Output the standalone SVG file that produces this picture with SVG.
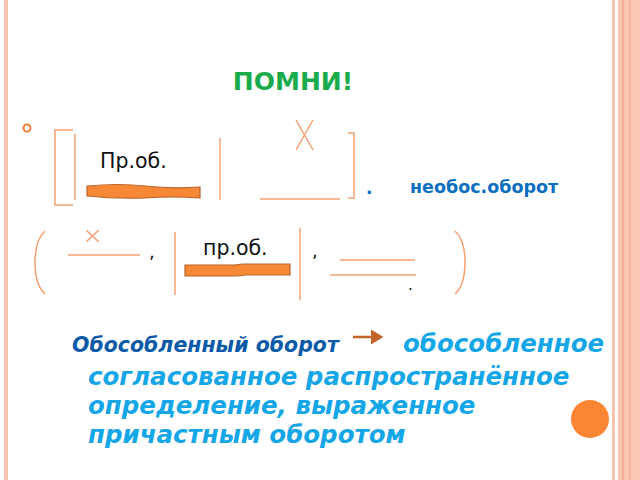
<svg xmlns="http://www.w3.org/2000/svg" width="640" height="480" viewBox="0 0 640 480">
<style>
.ln{stroke:#f4a070;stroke-width:1.5;fill:none}
.bar{fill:#f68836;stroke:#b8642c;stroke-width:1.2}
.t{font-family:"DejaVu Sans",sans-serif;fill:#111}
.bl{font-family:"DejaVu Sans",sans-serif;font-weight:bold;fill:#0b6fbf}
.cy{font-family:"DejaVu Sans",sans-serif;font-weight:bold;font-style:italic;fill:#14a6e6}
</style>
<defs><marker id="ah" markerWidth="6" markerHeight="6" refX="4" refY="3" orient="auto"><path d="M0,0 L5,3 L0,6 z" fill="#c0642a"/></marker></defs>
<rect width="640" height="480" fill="#fff"/>
<g id="border">
<rect x="4" y="0" width="4" height="480" fill="#f8c4b0"/>
<rect x="612" y="0" width="3" height="480" fill="#f8c4b0"/>
<rect x="618" y="0" width="22" height="480" fill="#fbc6b2"/>
<rect x="622" y="0" width="2" height="480" fill="#f6b096"/>
<rect x="629" y="0" width="1.5" height="480" fill="#f6b096"/>
</g>
<text x="293" y="90" text-anchor="middle" font-family="DejaVu Sans,sans-serif" font-weight="bold" font-size="25" fill="#1aab4b">ПОМНИ!</text>
<circle cx="27" cy="128" r="3.5" fill="none" stroke="#f08040" stroke-width="2"/>
<g id="scheme1">
<path class="ln" d="M73 130 H55 V205 H73"/>
<line class="ln" x1="75" y1="134" x2="75" y2="200"/>
<path class="ln" d="M348 133 H354 V198 H348"/>
<text class="t" x="100" y="168" font-size="20.5">Пр.об.</text>
<path class="bar" d="M87 186 Q120 183 145 186 Q172 189 200 187 V198 Q172 196 145 198 Q115 199 87 196 Z"/>
<line class="ln" x1="220" y1="138" x2="220" y2="200"/>
<path class="ln" d="M296 120 L313 150 M313 120 L296 150"/>
<line class="ln" x1="260" y1="199" x2="340" y2="199"/>
<text class="bl" x="366" y="194" font-size="17">.</text>
<text class="bl" x="410" y="193" font-size="17.5">необос.оборот</text>
</g>
<g id="scheme2">
<path class="ln" d="M45 231 Q35 240 35 262 Q35 285 45 294"/>
<path class="ln" d="M86 230 L99 242 M99 230 L86 242"/>
<line class="ln" x1="68" y1="255" x2="140" y2="255"/>
<text class="t" x="149" y="258" font-size="18">,</text>
<line class="ln" x1="175" y1="232" x2="175" y2="295"/>
<text class="t" x="203" y="255" font-size="20.5">пр.об.</text>
<path class="bar" d="M185 265 H235 Q240 264 245 264 H290 V275 H245 Q240 276 235 276 H185 Z"/>
<line class="ln" x1="300" y1="228" x2="300" y2="300"/>
<text class="t" x="312" y="257" font-size="18">,</text>
<line class="ln" x1="340" y1="260" x2="415" y2="260"/>
<line class="ln" x1="330" y1="275" x2="416" y2="275"/>
<text class="t" x="408" y="290" font-size="15">.</text>
<path class="ln" d="M455 231 Q465 240 465 262 Q465 285 455 294"/>
</g>
<g id="connectors">
<line x1="353" y1="337" x2="381" y2="337" stroke="#c0642a" stroke-width="2.5" marker-end="url(#ah)"/>
</g>
<g id="definition">
<text x="72" y="352" font-family="DejaVu Sans,sans-serif" font-weight="bold" font-style="italic" font-size="20.5" fill="#0a5aa8">Обособленный оборот</text>
<text class="cy" x="403" y="352" font-size="24.5">обособленное</text>
<text class="cy" x="88" y="385" font-size="24.5">согласованное распространённое</text>
<text class="cy" x="88" y="414" font-size="24.5">определение, выраженное</text>
<text class="cy" x="88" y="443" font-size="24.5">причастным оборотом</text>
</g>
<circle cx="590" cy="419" r="19" fill="#fb8532"/>
</svg>
